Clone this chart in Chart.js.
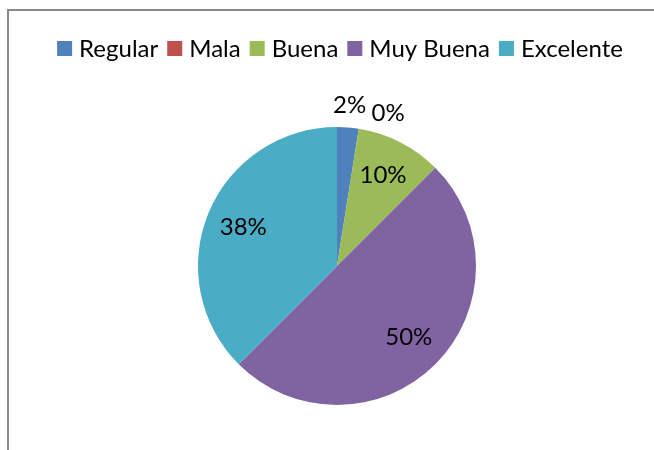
<!DOCTYPE html>
<html>
<head>
<meta charset="utf-8">
<script src="https://cdn.jsdelivr.net/npm/chart.js@4.4.0/dist/chart.umd.min.js"></script>
<style>
  html, body { margin: 0; padding: 0; background: #fff; }
  #wrap { position: relative; width: 654px; height: 450px; overflow: hidden; }
  #frame { position: absolute; left: 7px; top: 9px; width: 700px; height: 500px;
           border-left: 2px solid #8a8a8a; border-top: 2px solid #8a8a8a; }
  canvas { position: absolute; left: 0; top: 0; }
</style>
</head>
<body>
<div id="wrap">
  <div id="frame"></div>
  <canvas id="myChart" width="654" height="450"></canvas>
</div>
<script>
var categories = ['Regular', 'Mala', 'Buena', 'Muy Buena', 'Excelente'];
var values = [2.5, 0, 10, 50, 37.5];
var pctLabels = ['2%', '0%', '10%', '50%', '38%'];
var colors = ['#4F81BD', '#C0504D', '#9BBB59', '#8064A2', '#4BACC6'];

var fontFamily = 'Lato, "Open Sans", sans-serif';

// legend drawn by hand so the box/text gaps look like the excel one
const legendPlugin = {
    id: 'xlLegend',
    afterDraw(chart) {
        const ctx = chart.ctx;
        const box = 15, gapText = 7, gapItem = 9;
        ctx.save();
        ctx.font = '24px ' + fontFamily;
        ctx.textBaseline = 'middle';
        ctx.textAlign = 'left';
        let total = 0;
        const widths = categories.map(function(c) { return ctx.measureText(c).width; });
        widths.forEach(function(w) { total += box + gapText + w; });
        total += gapItem * (categories.length - 1);
        let x = 340 - total / 2;
        const cy = 48.5;
        categories.forEach(function(c, i) {
            ctx.fillStyle = colors[i];
            ctx.fillRect(x, cy - box / 2, box, box);
            ctx.fillStyle = '#000';
            ctx.fillText(c, x + box + gapText, cy + 1);
            x += box + gapText + widths[i] + gapItem;
        });
        ctx.restore();
    }
};

// percent labels: inside for big slices, outside for the tiny ones
const pctPlugin = {
    id: 'pctLabels',
    afterDatasetsDraw(chart) {
        const ctx = chart.ctx;
        const arcs = chart.getDatasetMeta(0).data;
        let prevOut = null;
        ctx.save();
        ctx.font = '24px ' + fontFamily;
        ctx.fillStyle = '#000';
        ctx.textAlign = 'center';
        ctx.textBaseline = 'middle';
        arcs.forEach(function(arc, i) {
            const p = arc.getProps(['x', 'y', 'startAngle', 'endAngle', 'outerRadius'], true);
            let mid = (p.startAngle + p.endAngle) / 2;
            const span = p.endAngle - p.startAngle;
            let r;
            if (span < 0.3) {
                if (prevOut !== null) mid = Math.max(mid, prevOut + 14 * Math.PI / 180);
                prevOut = mid;
                r = p.outerRadius * 1.16;
            } else {
                r = p.outerRadius * 0.73;
            }
            ctx.fillText(pctLabels[i], p.x + Math.cos(mid) * r, p.y + Math.sin(mid) * r);
        });
        ctx.restore();
    }
};

const ctx = document.getElementById('myChart').getContext('2d');
const myChart = new Chart(ctx, {
    type: 'pie',
    data: {
        labels: categories,
        datasets: [{
            data: values,
            backgroundColor: colors,
            borderWidth: 0
        }]
    },
    options: {
        responsive: false,
        animation: false,
        layout: {
            padding: { top: 127, bottom: 45, left: 20, right: 0 }
        },
        plugins: {
            legend: { display: false },
            tooltip: { enabled: false }
        }
    },
    plugins: [pctPlugin, legendPlugin]
});
</script>
</body>
</html>
